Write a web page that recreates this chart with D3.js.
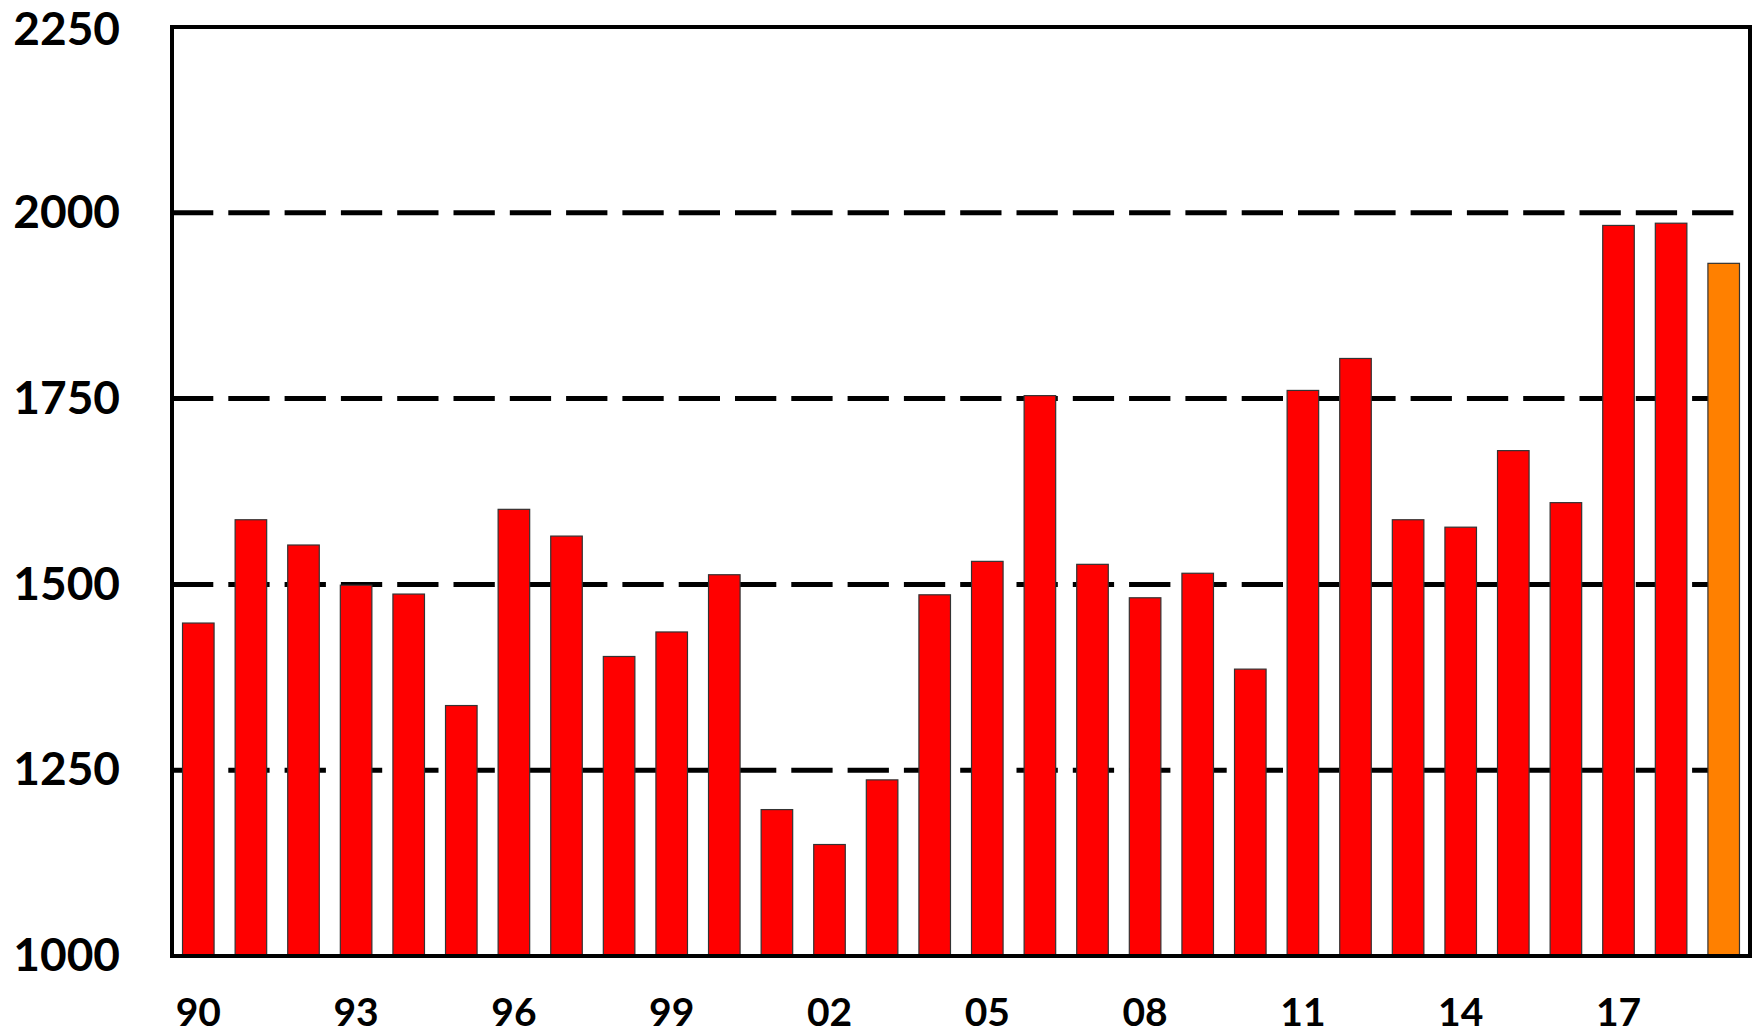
<!DOCTYPE html>
<html>
<head>
<meta charset="utf-8">
<script src="https://cdn.jsdelivr.net/npm/d3@7"></script>
<style>
  body { margin: 0; background: #fff; }
  svg { display: block; }
</style>
</head>
<body>
<div id="div_barchart"></div>
<script>
// ************************** data **************************
const years = [
  "90", "91", "92", "93", "94", "95", "96", "97", "98", "99",
  "00", "01", "02", "03", "04", "05", "06", "07", "08", "09",
  "10", "11", "12", "13", "14", "15", "16", "17", "18", "19",
];
const values = [
  1448, 1587, 1553, 1499, 1487, 1337, 1601, 1565, 1403, 1436,
  1513, 1197, 1150, 1237, 1486, 1531, 1754, 1527, 1482, 1515,
  1386, 1761, 1804, 1587, 1577, 1680, 1610, 1983, 1986, 1932,
];
// last year is an estimate, drawn in orange
const estimate = ["19"];
const xTickLabels = ["90", "93", "96", "99", "02", "05", "08", "11", "14", "17"];
const yTicks = [1000, 1250, 1500, 1750, 2000, 2250];
const gridTicks = [1250, 1500, 1750, 2000];

// ************************** bar chart **************************
function BarChart(
  {
    marginTop = 27, // top margin, in pixels
    marginRight = 8, // right margin, in pixels
    marginBottom = 79, // bottom margin, in pixels
    marginLeft = 172, // left margin, in pixels
    width = 1758, // outer width, in pixels
    height = 1035, // outer height, in pixels
    fontFamily = "Lato, 'Open Sans', sans-serif",
  } = {}
) {
  const xScale = d3
    .scaleBand()
    .domain(years)
    .range([marginLeft, width - marginRight])
    .paddingInner(0.4)
    .paddingOuter(0.2);
  const yScale = d3
    .scaleLinear()
    .domain([1000, 2250])
    .range([height - marginBottom, marginTop]);

  const svg_holder = d3
    .create("svg")
    .attr("width", width)
    .attr("height", height)
    .style("font-family", fontFamily);

  // dashed grid lines (behind the bars)
  svg_holder
    .append("g")
    .selectAll("line")
    .data(gridTicks)
    .join("line")
    .attr("x1", marginLeft)
    .attr("x2", width - marginRight)
    .attr("y1", (d) => yScale(d))
    .attr("y2", (d) => yScale(d))
    .attr("stroke", "#000")
    .attr("stroke-width", 5)
    .attr("stroke-dasharray", "41.3,15");

  // bars
  svg_holder
    .append("g")
    .selectAll("rect")
    .data(years)
    .join("rect")
    .attr("x", (d) => xScale(d))
    .attr("y", (d, i) => yScale(values[i]))
    .attr("width", xScale.bandwidth())
    .attr("height", (d, i) => yScale(1000) - yScale(values[i]))
    .attr("fill", (d) => (estimate.includes(d) ? "#ff8000" : "#ff0000"))
    .attr("stroke", "#333")
    .attr("stroke-width", 1.2);

  // frame
  svg_holder
    .append("rect")
    .attr("x", marginLeft)
    .attr("y", marginTop)
    .attr("width", width - marginLeft - marginRight)
    .attr("height", height - marginTop - marginBottom)
    .attr("fill", "none")
    .attr("stroke", "#000")
    .attr("stroke-width", 4);

  // y axis labels
  const yAxis = d3
    .axisLeft(yScale)
    .tickValues(yTicks)
    .tickFormat(d3.format("d"))
    .tickSize(0)
    .tickPadding(52);
  svg_holder
    .append("g")
    .attr("class", "yaxis")
    .attr("transform", `translate(${marginLeft},0)`)
    .call(yAxis)
    .call((g) => g.select(".domain").remove())
    .call((g) =>
      g
        .selectAll("text")
        .attr("font-family", fontFamily)
        .attr("font-size", 46)
        .attr("font-weight", "bold")
        .attr("fill", "#000")
    );

  // x axis labels, every third year
  const xAxis = d3
    .axisBottom(xScale)
    .tickValues(xTickLabels)
    .tickSize(0)
    .tickPadding(42);
  svg_holder
    .append("g")
    .attr("transform", `translate(0,${height - marginBottom})`)
    .call(xAxis)
    .call((g) => g.select(".domain").remove())
    .call((g) =>
      g
        .selectAll("text")
        .attr("font-family", fontFamily)
        .attr("font-size", 39)
        .attr("font-weight", "bold")
        .attr("fill", "#000")
    );

  return svg_holder.node();
}

const svg_bar = BarChart();
d3.select("#div_barchart").node().appendChild(svg_bar);

// keep the top label inside the picture
d3.selectAll(".yaxis .tick").each(function () {
  const box = this.getBoundingClientRect();
  if (box.top < 0) {
    const t = d3.select(this).select("text");
    t.attr("y", (+t.attr("y") || 0) - box.top);
  }
});
</script>
</body>
</html>
